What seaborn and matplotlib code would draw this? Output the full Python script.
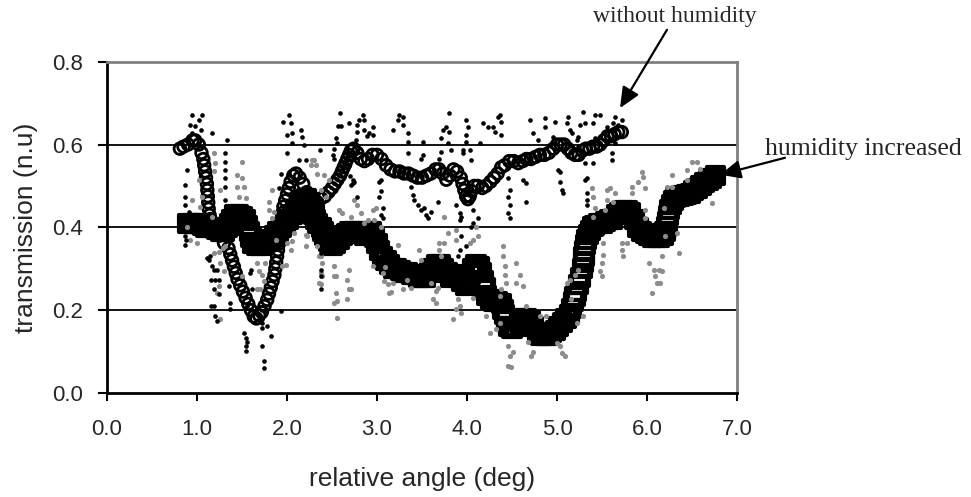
import matplotlib
matplotlib.use("Agg")
import matplotlib.pyplot as plt
import seaborn as sns
import numpy as np
import pandas as pd
from matplotlib.ticker import FormatStrFormatter

# ---------------- data ----------------
# smoothed curve, without humidity (open circles): (angle, transmission)
circ_pts = [
    (0.81, 0.590), (0.85, 0.595), (0.90, 0.600), (0.95, 0.610), (0.98, 0.610), (1.02, 0.600),
    (1.05, 0.580), (1.07, 0.565), (1.08, 0.550), (1.09, 0.535), (1.10, 0.520), (1.11, 0.505),
    (1.115, 0.490), (1.12, 0.475), (1.125, 0.460), (1.13, 0.445), (1.14, 0.430), (1.15, 0.420),
    (1.17, 0.410), (1.20, 0.400), (1.25, 0.380), (1.30, 0.362), (1.35, 0.350), (1.37, 0.335),
    (1.39, 0.320), (1.41, 0.305), (1.43, 0.290), (1.45, 0.275), (1.48, 0.260), (1.51, 0.245),
    (1.54, 0.230), (1.57, 0.215), (1.60, 0.200), (1.63, 0.185), (1.66, 0.180), (1.69, 0.188),
    (1.72, 0.195), (1.75, 0.210), (1.78, 0.225), (1.80, 0.240), (1.82, 0.255), (1.84, 0.270),
    (1.86, 0.285), (1.87, 0.300), (1.88, 0.315), (1.89, 0.330), (1.90, 0.345), (1.91, 0.360),
    (1.92, 0.375), (1.93, 0.390), (1.94, 0.405), (1.945, 0.420), (1.95, 0.435), (1.96, 0.450),
    (1.98, 0.465), (2.00, 0.480), (2.02, 0.495), (2.04, 0.510), (2.07, 0.525), (2.10, 0.530),
    (2.14, 0.520), (2.18, 0.505), (2.22, 0.485), (2.26, 0.465), (2.30, 0.455), (2.34, 0.460),
    (2.38, 0.470), (2.42, 0.475), (2.46, 0.485), (2.50, 0.495), (2.53, 0.505), (2.56, 0.515),
    (2.59, 0.525), (2.61, 0.535), (2.63, 0.545), (2.65, 0.555), (2.67, 0.565), (2.69, 0.575),
    (2.71, 0.585), (2.74, 0.590), (2.78, 0.580), (2.82, 0.565), (2.86, 0.560), (2.90, 0.565),
    (2.95, 0.575), (3.00, 0.575), (3.05, 0.565), (3.10, 0.550), (3.15, 0.540), (3.20, 0.535),
    (3.25, 0.535), (3.30, 0.530), (3.35, 0.530), (3.40, 0.525), (3.45, 0.520), (3.50, 0.520),
    (3.55, 0.525), (3.60, 0.530), (3.65, 0.540), (3.69, 0.540), (3.73, 0.530), (3.77, 0.515),
    (3.81, 0.525), (3.85, 0.540), (3.89, 0.535), (3.93, 0.520), (3.95, 0.505), (3.97, 0.490),
    (3.99, 0.475), (4.01, 0.468), (4.03, 0.475), (4.05, 0.488), (4.08, 0.500), (4.12, 0.500),
    (4.17, 0.495), (4.21, 0.500), (4.26, 0.510), (4.30, 0.520), (4.34, 0.530), (4.38, 0.545),
    (4.42, 0.550), (4.47, 0.560), (4.52, 0.560), (4.57, 0.555), (4.62, 0.560), (4.66, 0.565),
    (4.71, 0.565), (4.76, 0.570), (4.81, 0.575), (4.86, 0.575), (4.91, 0.580), (4.96, 0.590),
    (5.00, 0.600), (5.04, 0.600), (5.08, 0.600), (5.12, 0.590), (5.16, 0.580), (5.20, 0.575),
    (5.24, 0.575), (5.28, 0.585), (5.32, 0.590), (5.36, 0.590), (5.40, 0.595), (5.44, 0.595),
    (5.48, 0.600), (5.52, 0.610), (5.56, 0.620), (5.60, 0.620), (5.64, 0.625), (5.68, 0.630),
    (5.72, 0.630),
]

# smoothed curve, humidity increased (open squares): (angle, transmission)
sq_pts = [
    (0.90, 0.410), (0.94, 0.410), (0.98, 0.410), (1.02, 0.410), (1.06, 0.405), (1.10, 0.400),
    (1.14, 0.400), (1.18, 0.400), (1.22, 0.395), (1.26, 0.390), (1.30, 0.390), (1.34, 0.400),
    (1.36, 0.410), (1.38, 0.420), (1.42, 0.430), (1.46, 0.430), (1.50, 0.425), (1.54, 0.420),
    (1.56, 0.405), (1.58, 0.390), (1.60, 0.375), (1.62, 0.362), (1.66, 0.355), (1.70, 0.355),
    (1.74, 0.360), (1.78, 0.365), (1.82, 0.370), (1.86, 0.380), (1.90, 0.390), (1.94, 0.400),
    (1.98, 0.410), (2.02, 0.420), (2.06, 0.430), (2.10, 0.440), (2.14, 0.455), (2.18, 0.465),
    (2.22, 0.470), (2.25, 0.460), (2.28, 0.445), (2.30, 0.430), (2.32, 0.420), (2.34, 0.410),
    (2.38, 0.400), (2.40, 0.390), (2.42, 0.380), (2.46, 0.365), (2.50, 0.355), (2.54, 0.360),
    (2.58, 0.370), (2.62, 0.380), (2.66, 0.385), (2.70, 0.390), (2.74, 0.390), (2.78, 0.390),
    (2.82, 0.385), (2.86, 0.380), (2.90, 0.385), (2.94, 0.390), (2.97, 0.375), (3.00, 0.360),
    (3.03, 0.345), (3.06, 0.330), (3.10, 0.320), (3.14, 0.310), (3.18, 0.300), (3.22, 0.300),
    (3.26, 0.295), (3.30, 0.290), (3.34, 0.290), (3.38, 0.285), (3.42, 0.285), (3.46, 0.280),
    (3.50, 0.280), (3.54, 0.280), (3.58, 0.290), (3.62, 0.300), (3.66, 0.310), (3.70, 0.310),
    (3.74, 0.300), (3.78, 0.290), (3.82, 0.280), (3.86, 0.285), (3.90, 0.280), (3.94, 0.270),
    (3.98, 0.260), (4.02, 0.270), (4.04, 0.285), (4.06, 0.300), (4.10, 0.310), (4.14, 0.305),
    (4.16, 0.290), (4.18, 0.272), (4.20, 0.255), (4.22, 0.235), (4.26, 0.225), (4.30, 0.220),
    (4.34, 0.220), (4.38, 0.215), (4.40, 0.202), (4.42, 0.190), (4.44, 0.175), (4.46, 0.160),
    (4.50, 0.155), (4.54, 0.160), (4.58, 0.170), (4.62, 0.180), (4.66, 0.180), (4.70, 0.175),
    (4.74, 0.160), (4.78, 0.145), (4.82, 0.140), (4.86, 0.140), (4.90, 0.140), (4.94, 0.145),
    (4.98, 0.150), (5.02, 0.160), (5.06, 0.170), (5.10, 0.180), (5.14, 0.190), (5.16, 0.205),
    (5.18, 0.220), (5.20, 0.232), (5.22, 0.245), (5.24, 0.262), (5.26, 0.280), (5.28, 0.300),
    (5.29, 0.315), (5.30, 0.330), (5.31, 0.345), (5.32, 0.358), (5.33, 0.370), (5.35, 0.382),
    (5.37, 0.393), (5.40, 0.402), (5.42, 0.405), (5.46, 0.410), (5.50, 0.410), (5.54, 0.415),
    (5.58, 0.420), (5.62, 0.420), (5.66, 0.430), (5.70, 0.435), (5.74, 0.440), (5.78, 0.440),
    (5.82, 0.435), (5.86, 0.420), (5.90, 0.400), (5.94, 0.390), (5.98, 0.385), (6.02, 0.380),
    (6.06, 0.375), (6.10, 0.375), (6.14, 0.375), (6.18, 0.380), (6.20, 0.390), (6.22, 0.402),
    (6.23, 0.415), (6.24, 0.428), (6.25, 0.442), (6.27, 0.455), (6.29, 0.466), (6.32, 0.472),
    (6.36, 0.475), (6.40, 0.478), (6.44, 0.480), (6.48, 0.482), (6.52, 0.488), (6.56, 0.495),
    (6.60, 0.502), (6.64, 0.508), (6.68, 0.512), (6.72, 0.518), (6.76, 0.525),
]

# raw data, without humidity (small black dots)
raw_dry_x = [0.870, 0.870, 0.870, 0.870, 0.870, 0.880, 0.888, 0.907, 0.925, 0.944, 0.944, 0.980, 1.020, 1.040,
             1.056, 1.110, 1.130, 1.148, 1.160, 1.160, 1.167, 1.170, 1.185, 1.190, 1.190, 1.204, 1.204, 1.220,
             1.223, 1.241, 1.241, 1.316, 1.316, 1.316, 1.316, 1.316, 1.316, 1.334, 1.334, 1.350, 1.350, 1.371,
             1.371, 1.520, 1.539, 1.539, 1.539, 1.550, 1.557, 1.594, 1.594, 1.600, 1.613, 1.720, 1.725, 1.725,
             1.725, 1.743, 1.743, 1.760, 1.780, 1.817, 1.910, 1.929, 1.929, 1.959, 2.003, 2.003, 2.021, 2.021,
             2.040, 2.058, 2.058, 2.133, 2.151, 2.170, 2.189, 2.207, 2.367, 2.375, 2.375, 2.375, 2.375, 2.393,
             2.440, 2.470, 2.515, 2.524, 2.524, 2.542, 2.552, 2.570, 2.589, 2.598, 2.663, 2.685, 2.690, 2.696,
             2.709, 2.728, 2.737, 2.746, 2.765, 2.774, 2.783, 2.783, 2.802, 2.839, 2.857, 2.857, 2.885, 2.914,
             2.951, 2.951, 3.025, 3.025, 3.043, 3.043, 3.043, 3.062, 3.062, 3.174, 3.230, 3.248, 3.285, 3.285,
             3.341, 3.341, 3.341, 3.378, 3.397, 3.415, 3.452, 3.490, 3.490, 3.508, 3.508, 3.527, 3.545, 3.564,
             3.600, 3.675, 3.694, 3.712, 3.712, 3.730, 3.768, 3.786, 3.805, 3.805, 3.824, 3.880, 3.898, 3.917,
             3.917, 3.917, 3.935, 3.935, 3.954, 3.954, 3.991, 3.991, 3.991, 3.991, 4.010, 4.028, 4.046, 4.046,
             4.065, 4.065, 4.121, 4.140, 4.177, 4.233, 4.289, 4.307, 4.344, 4.363, 4.381, 4.381, 4.456, 4.456,
             4.456, 4.475, 4.475, 4.475, 4.623, 4.660, 4.660, 4.697, 4.734, 4.790, 4.864, 4.864, 4.957, 4.976,
             5.013, 5.031, 5.031, 5.050, 5.068, 5.106, 5.125, 5.143, 5.162, 5.217, 5.236, 5.254, 5.291, 5.310,
             5.310, 5.310, 5.329, 5.329, 5.329, 5.329, 5.403, 5.403, 5.422, 5.422, 5.478, 5.552, 5.608, 5.608,
             5.627, 5.645, 5.645, 5.682, 5.719]
raw_dry_y = [0.502, 0.474, 0.454, 0.378, 0.358, 0.370, 0.538, 0.438, 0.647, 0.671, 0.627, 0.644, 0.659, 0.635,
             0.671, 0.326, 0.322, 0.330, 0.274, 0.210, 0.627, 0.306, 0.210, 0.298, 0.250, 0.274, 0.186, 0.174,
             0.298, 0.274, 0.238, 0.579, 0.559, 0.538, 0.518, 0.498, 0.466, 0.610, 0.442, 0.426, 0.258, 0.218,
             0.202, 0.146, 0.134, 0.114, 0.102, 0.122, 0.210, 0.354, 0.290, 0.298, 0.250, 0.170, 0.178, 0.158,
             0.114, 0.078, 0.061, 0.210, 0.162, 0.138, 0.494, 0.530, 0.198, 0.655, 0.623, 0.579, 0.671, 0.530,
             0.651, 0.627, 0.603, 0.562, 0.635, 0.619, 0.599, 0.562, 0.587, 0.338, 0.298, 0.282, 0.250, 0.354,
             0.420, 0.390, 0.575, 0.590, 0.566, 0.615, 0.603, 0.644, 0.676, 0.644, 0.579, 0.547, 0.651, 0.523,
             0.502, 0.514, 0.506, 0.510, 0.611, 0.474, 0.647, 0.631, 0.659, 0.671, 0.659, 0.635, 0.620, 0.627,
             0.643, 0.623, 0.510, 0.474, 0.514, 0.487, 0.430, 0.446, 0.422, 0.635, 0.659, 0.671, 0.667, 0.647,
             0.627, 0.607, 0.579, 0.498, 0.478, 0.466, 0.454, 0.442, 0.566, 0.607, 0.575, 0.446, 0.430, 0.422,
             0.438, 0.462, 0.566, 0.615, 0.583, 0.635, 0.643, 0.603, 0.675, 0.631, 0.587, 0.454, 0.330, 0.434,
             0.418, 0.346, 0.426, 0.378, 0.587, 0.579, 0.659, 0.623, 0.607, 0.354, 0.643, 0.587, 0.562, 0.402,
             0.442, 0.410, 0.422, 0.603, 0.651, 0.643, 0.643, 0.631, 0.667, 0.671, 0.655, 0.623, 0.518, 0.474,
             0.434, 0.490, 0.454, 0.422, 0.514, 0.506, 0.462, 0.659, 0.627, 0.611, 0.663, 0.643, 0.619, 0.655,
             0.538, 0.534, 0.510, 0.490, 0.482, 0.651, 0.667, 0.635, 0.627, 0.611, 0.619, 0.647, 0.679, 0.651,
             0.555, 0.514, 0.518, 0.482, 0.466, 0.454, 0.651, 0.555, 0.671, 0.615, 0.671, 0.643, 0.579, 0.562,
             0.651, 0.667, 0.603, 0.647, 0.659]

# raw data, humidity increased (grey dots)
raw_wet_x = [0.890, 0.920, 0.944, 1.000, 1.018, 1.037, 1.055, 1.167, 1.185, 1.185, 1.190, 1.204, 1.223, 1.240,
             1.241, 1.260, 1.260, 1.260, 1.290, 1.297, 1.316, 1.446, 1.446, 1.464, 1.501, 1.501, 1.501, 1.520,
             1.539, 1.668, 1.668, 1.687, 1.705, 1.724, 1.743, 1.761, 1.798, 1.798, 1.836, 1.836, 1.854, 1.873,
             1.947, 1.984, 2.003, 2.040, 2.058, 2.078, 2.207, 2.207, 2.226, 2.263, 2.282, 2.300, 2.319, 2.337,
             2.337, 2.356, 2.356, 2.374, 2.374, 2.374, 2.375, 2.390, 2.393, 2.412, 2.430, 2.468, 2.523, 2.523,
             2.524, 2.542, 2.542, 2.560, 2.561, 2.579, 2.616, 2.672, 2.672, 2.690, 2.690, 2.709, 2.709, 2.746,
             2.783, 2.820, 2.857, 2.895, 2.951, 2.951, 2.970, 2.988, 3.043, 3.062, 3.080, 3.090, 3.118, 3.137,
             3.150, 3.180, 3.230, 3.285, 3.330, 3.378, 3.471, 3.490, 3.600, 3.619, 3.657, 3.657, 3.675, 3.694,
             3.694, 3.712, 3.749, 3.749, 3.786, 3.843, 3.880, 3.880, 3.880, 3.898, 3.917, 3.935, 4.028, 4.065,
             4.065, 4.103, 4.121, 4.214, 4.251, 4.326, 4.363, 4.363, 4.381, 4.400, 4.400, 4.419, 4.419, 4.437,
             4.456, 4.456, 4.475, 4.493, 4.512, 4.549, 4.549, 4.586, 4.623, 4.660, 4.678, 4.715, 4.734, 4.808,
             4.883, 4.996, 5.031, 5.052, 5.087, 5.106, 5.143, 5.160, 5.199, 5.218, 5.236, 5.292, 5.385, 5.403,
             5.403, 5.422, 5.478, 5.496, 5.496, 5.515, 5.515, 5.533, 5.552, 5.552, 5.589, 5.627, 5.645, 5.719,
             5.719, 5.738, 5.775, 5.831, 5.831, 5.905, 5.942, 5.961, 5.980, 5.980, 5.980, 6.017, 6.054, 6.073,
             6.091, 6.110, 6.128, 6.147, 6.165, 6.165, 6.184, 6.202, 6.221, 6.277, 6.277, 6.333, 6.351, 6.444,
             6.444, 6.500, 6.556, 6.593, 6.723]
raw_wet_y = [0.400, 0.370, 0.466, 0.362, 0.514, 0.450, 0.474, 0.426, 0.579, 0.535, 0.338, 0.555, 0.242, 0.340,
             0.258, 0.490, 0.314, 0.178, 0.350, 0.294, 0.354, 0.526, 0.498, 0.474, 0.559, 0.518, 0.282, 0.498,
             0.470, 0.314, 0.250, 0.294, 0.250, 0.286, 0.270, 0.314, 0.462, 0.442, 0.490, 0.422, 0.438, 0.370,
             0.306, 0.310, 0.362, 0.346, 0.366, 0.386, 0.382, 0.354, 0.378, 0.550, 0.563, 0.562, 0.550, 0.530,
             0.354, 0.330, 0.266, 0.490, 0.330, 0.262, 0.290, 0.282, 0.314, 0.526, 0.474, 0.514, 0.282, 0.218,
             0.306, 0.282, 0.242, 0.182, 0.222, 0.442, 0.434, 0.274, 0.226, 0.298, 0.250, 0.426, 0.250, 0.466,
             0.454, 0.434, 0.410, 0.418, 0.442, 0.306, 0.418, 0.446, 0.402, 0.290, 0.270, 0.305, 0.262, 0.242,
             0.245, 0.265, 0.358, 0.250, 0.273, 0.254, 0.346, 0.322, 0.266, 0.226, 0.218, 0.246, 0.254, 0.362,
             0.346, 0.330, 0.426, 0.362, 0.386, 0.178, 0.394, 0.370, 0.202, 0.226, 0.210, 0.194, 0.362, 0.370,
             0.230, 0.402, 0.378, 0.186, 0.146, 0.154, 0.170, 0.234, 0.250, 0.354, 0.330, 0.306, 0.286, 0.266,
             0.114, 0.066, 0.090, 0.062, 0.098, 0.314, 0.266, 0.286, 0.258, 0.210, 0.122, 0.090, 0.098, 0.186,
             0.186, 0.120, 0.114, 0.096, 0.090, 0.266, 0.274, 0.226, 0.286, 0.170, 0.298, 0.186, 0.494, 0.474,
             0.426, 0.446, 0.294, 0.314, 0.282, 0.362, 0.334, 0.442, 0.490, 0.466, 0.494, 0.462, 0.482, 0.362,
             0.346, 0.330, 0.362, 0.498, 0.482, 0.510, 0.534, 0.522, 0.494, 0.442, 0.422, 0.314, 0.242, 0.298,
             0.282, 0.266, 0.298, 0.266, 0.294, 0.330, 0.446, 0.378, 0.498, 0.526, 0.498, 0.386, 0.338, 0.514,
             0.538, 0.558, 0.558, 0.542, 0.458]

x_ticks = [0.0, 1.0, 2.0, 3.0, 4.0, 5.0, 6.0, 7.0]
y_ticks = [0.0, 0.2, 0.4, 0.6, 0.8]
x_label = "relative angle (deg)"
y_label = "transmission (n.u)"
note_dry = "without humidity"
note_wet = "humidity increased"

circ_x = [p[0] for p in circ_pts]
circ_y = [p[1] for p in circ_pts]
sq_x = [p[0] for p in sq_pts]
sq_y = [p[1] for p in sq_pts]

# ---------------- plot ----------------
sns.set_style("white")
plt.rcParams["font.family"] = ["Liberation Sans", "DejaVu Sans"]

fig = plt.figure(figsize=(9.71, 4.97), dpi=100)
ax = fig.add_axes([107 / 971, 1 - 393 / 497, 630 / 971, 331.3 / 497])

sns.scatterplot(x=sq_x, y=sq_y, ax=ax, marker="s", s=150, facecolor="none",
                edgecolor="black", linewidth=3.0, zorder=3)
sns.scatterplot(x=circ_x, y=circ_y, ax=ax, marker="o", s=70, facecolor="none",
                edgecolor="black", linewidth=2.0, zorder=4)
sns.scatterplot(x=raw_wet_x, y=raw_wet_y, ax=ax, marker="o", s=14, color="#8c8c8c",
                linewidth=0, zorder=5)
sns.scatterplot(x=raw_dry_x, y=raw_dry_y, ax=ax, marker="o", s=11, color="black",
                linewidth=0, zorder=6)

ax.set_xlim(0, 7)
ax.set_ylim(0, 0.8)
ax.set_xticks(x_ticks)
ax.set_yticks(y_ticks)
ax.xaxis.set_major_formatter(FormatStrFormatter("%.1f"))
ax.yaxis.set_major_formatter(FormatStrFormatter("%.1f"))
ax.tick_params(axis="x", direction="out", length=6, width=1.5, pad=13, labelsize=16,
               bottom=True, color="black")
ax.tick_params(axis="y", direction="out", length=6.5, width=1.5, pad=11, labelsize=16,
               left=True, color="black")

ax.grid(False)
for yv in y_ticks[1:-1]:
    ax.axhline(yv, color="black", lw=1.3, zorder=1)

for side in ["left", "bottom"]:
    ax.spines[side].set_color("black")
    ax.spines[side].set_linewidth(2)
for side in ["top", "right"]:
    ax.spines[side].set_color("#808080")
    ax.spines[side].set_linewidth(2)

ax.set_xlabel(x_label, fontsize=19)
ax.set_ylabel(y_label, fontsize=19)
ax.xaxis.set_label_coords(0.5, -0.26)
ax.xaxis.label.set_va("center")
ax.yaxis.set_label_coords(-0.129, 0.5)
ax.yaxis.label.set_va("center")

serif = ["Liberation Serif", "DejaVu Serif"]
ax.text(6.311, 0.910, note_dry, ha="center", va="center", fontsize=17,
        family=serif, clip_on=False)
ax.text(8.40, 0.589, note_wet, ha="center", va="center", fontsize=18.5,
        family=serif, clip_on=False)
arrow = dict(arrowstyle="-|>,head_length=0.9,head_width=0.4", color="black", lw=1.6,
             shrinkA=0, shrinkB=0, mutation_scale=14)
ax.annotate("", xy=(5.70, 0.688), xytext=(6.222, 0.877), arrowprops=arrow,
            annotation_clip=False)
ax.annotate("", xy=(6.811, 0.527), xytext=(7.533, 0.568), arrowprops=arrow,
            annotation_clip=False)

fig.savefig("out.png", dpi=100)
